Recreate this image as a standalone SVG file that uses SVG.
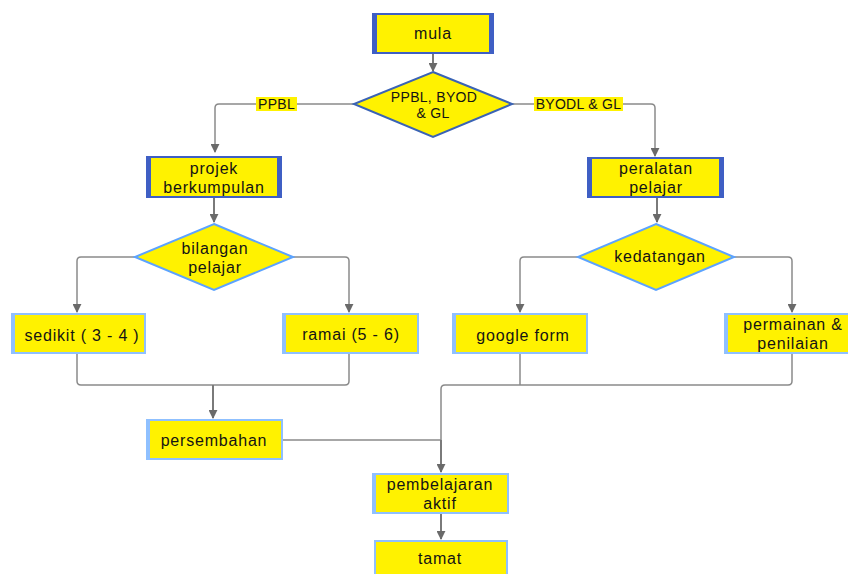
<svg xmlns="http://www.w3.org/2000/svg" width="848" height="574" viewBox="0 0 848 574">
<style>
text{font-family:"Liberation Sans",Arial,sans-serif;font-size:16px;letter-spacing:0.8px;fill:#141414;text-anchor:middle;dominant-baseline:central}
.box{fill:#fff200;stroke:#8fc0ff;stroke-width:2}
.boxd{fill:#fff200;stroke:#3f5fc4;stroke-width:2}
.side{stroke:#3f5fc4;stroke-width:4}
.sidel{stroke:#8fc0ff;stroke-width:3}
.dia{fill:#fff200;stroke:#5ca3ff;stroke-width:2}
.diad{fill:#fff200;stroke:#3a63b5;stroke-width:2}
.c{fill:none;stroke:#8a8a8a;stroke-width:1.5;stroke-linejoin:round}
.a{fill:none;stroke:#7a7a7a;stroke-width:2}
.lbl{fill:#fff200}
.sm{font-size:14px;letter-spacing:0.3px}
</style>
<defs>
<marker id="ah" viewBox="0 0 10 10" refX="9" refY="5" markerUnits="userSpaceOnUse" markerWidth="9" markerHeight="9" orient="auto"><path d="M0,0 L10,5 L0,10 z" fill="#6a6a6a"/></marker>
</defs>
<g id="connectors">
<path class="a" d="M433,53 V71" marker-end="url(#ah)"/>
<path class="c" d="M354,104 H219 Q215,104 215,108 V152" marker-end="url(#ah)"/>
<path class="c" d="M512,104 H651 Q655,104 655,108 V156" marker-end="url(#ah)"/>
<path class="a" d="M214,197 V222" marker-end="url(#ah)"/>
<path class="a" d="M657,197 V222" marker-end="url(#ah)"/>
<path class="c" d="M135,257 H81 Q77,257 77,261 V312" marker-end="url(#ah)"/>
<path class="c" d="M293,257 H345 Q349,257 349,261 V312" marker-end="url(#ah)"/>
<path class="c" d="M578,257 H524 Q520,257 520,261 V312" marker-end="url(#ah)"/>
<path class="c" d="M734,257 H788 Q792,257 792,261 V312" marker-end="url(#ah)"/>
<path class="c" d="M77,353 V381 Q77,385 81,385 H345 Q349,385 349,381 V353"/>
<path class="a" d="M213,385 V418" marker-end="url(#ah)"/>
<path class="c" d="M520,353 V385"/>
<path class="c" d="M792,353 V381 Q792,385 788,385 H445 Q441,385 441,389 V440"/>
<path class="c" d="M282,440 H441"/>
<path class="a" d="M441,440 V472" marker-end="url(#ah)"/>
<path class="a" d="M441,513 V539" marker-end="url(#ah)"/>
<rect class="lbl" x="256" y="97" width="41" height="14"/>
<text class="sm" x="276.5" y="104">PPBL</text>
<rect class="lbl" x="534" y="97" width="89" height="14"/>
<text class="sm" x="578.5" y="104">BYODL &amp; GL</text>
</g>
<g id="mula">
<rect class="boxd" x="373" y="14" width="120" height="39"/>
<path class="side" d="M375,14 V53 M491,14 V53"/>
<text x="433" y="33.5">mula</text>
</g>
<g id="pilihan">
<polygon class="diad" points="433,72 512,104 433,137 354,104"/>
<text class="sm" x="434" y="97">PPBL, BYOD</text>
<text class="sm" x="433" y="113">&amp; GL</text>
</g>
<g id="projek">
<rect class="boxd" x="147" y="157" width="134" height="40"/>
<path class="side" d="M149,157 V197 M279,157 V197"/>
<text x="214" y="168">projek</text>
<text x="214" y="187">berkumpulan</text>
</g>
<g id="peralatan">
<rect class="boxd" x="588" y="158" width="135" height="39"/>
<path class="side" d="M590,158 V197 M721,158 V197"/>
<text x="656" y="168">peralatan</text>
<text x="656" y="187">pelajar</text>
</g>
<g id="bilangan">
<polygon class="dia" points="214,224 293,257 214,290 135,257"/>
<text x="215" y="248">bilangan</text>
<text x="215" y="267">pelajar</text>
</g>
<g id="kedatangan">
<polygon class="dia" points="656,224 734,257 656,290 578,257"/>
<text x="660" y="256">kedatangan</text>
</g>
<g id="sedikit">
<rect class="box" x="12" y="314" width="133" height="39"/>
<path class="sidel" d="M13.5,314 V353"/>
<text x="82" y="335">sedikit ( 3 - 4 )</text>
</g>
<g id="ramai">
<rect class="box" x="283" y="314" width="135" height="39"/>
<path class="sidel" d="M284.5,314 V353"/>
<text x="351" y="334">ramai (5 - 6)</text>
</g>
<g id="googleform">
<rect class="box" x="453" y="314" width="134" height="39"/>
<path class="sidel" d="M454.5,314 V353"/>
<text x="523" y="335">google form</text>
</g>
<g id="permainan">
<rect class="box" x="725" y="314" width="130" height="39"/>
<path class="sidel" d="M726.5,314 V353"/>
<text x="793" y="324">permainan &amp;</text>
<text x="793" y="343">penilaian</text>
</g>
<g id="persembahan">
<rect class="box" x="147" y="420" width="135" height="39"/>
<path class="sidel" d="M148.5,420 V459"/>
<text x="214" y="440">persembahan</text>
</g>
<g id="pembelajaran">
<rect class="box" x="373" y="474" width="135" height="39"/>
<path class="sidel" d="M374.5,474 V513"/>
<text x="440" y="484">pembelajaran</text>
<text x="440" y="503">aktif</text>
</g>
<g id="tamat">
<rect class="box" x="375" y="541" width="132" height="40"/>
<text x="440" y="558">tamat</text>
</g>
</svg>
